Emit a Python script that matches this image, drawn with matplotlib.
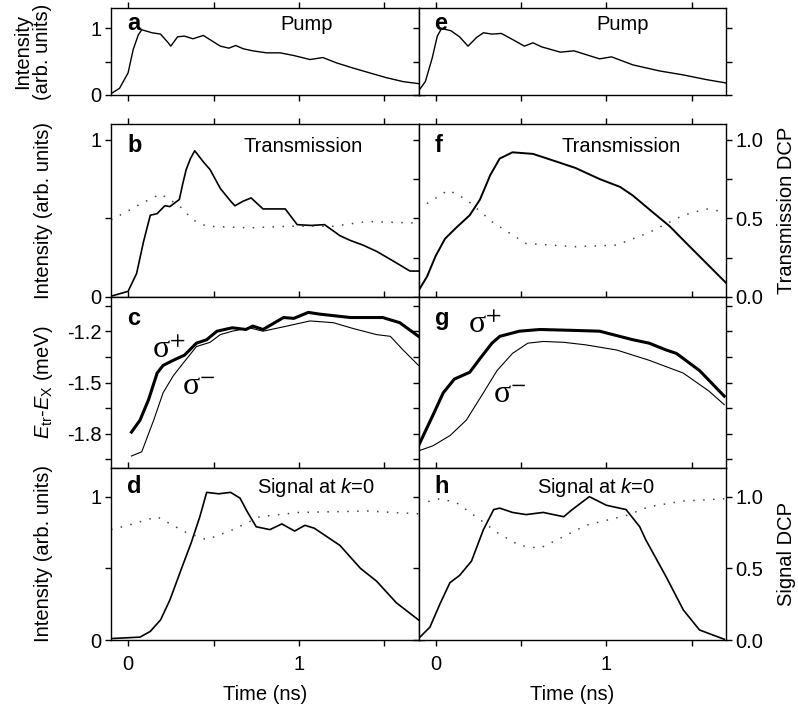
import matplotlib
matplotlib.use('Agg')
import matplotlib.pyplot as plt

plt.rcParams['font.family'] = ['Liberation Sans', 'DejaVu Sans']
plt.rcParams['font.size'] = 14.5
plt.rcParams['mathtext.fontset'] = 'custom'
plt.rcParams['mathtext.rm'] = 'Liberation Sans'
plt.rcParams['mathtext.it'] = 'Liberation Sans:italic'

# ---- data (time in ns) ----
# a: pump, left
t_pump_l = [-0.10, -0.05, 0.0, 0.03, 0.06, 0.08, 0.14, 0.19, 0.235, 0.25, 0.29, 0.33, 0.38, 0.44,
            0.49, 0.54, 0.59, 0.63, 0.675, 0.73, 0.81, 0.89, 0.97, 1.065, 1.14, 1.22, 1.32,
            1.415, 1.51, 1.61, 1.70]
pump_l = [0.02, 0.10, 0.33, 0.68, 0.90, 0.975, 0.93, 0.91, 0.78, 0.73, 0.87, 0.88, 0.84, 0.89,
          0.81, 0.73, 0.70, 0.74, 0.69, 0.66, 0.63, 0.63, 0.59, 0.53, 0.56, 0.48, 0.40,
          0.33, 0.26, 0.20, 0.17]
# e: pump, right
t_pump_r = [-0.10, -0.06, -0.02, 0.01, 0.035, 0.09, 0.14, 0.19, 0.24, 0.28, 0.33, 0.385, 0.45,
            0.52, 0.57, 0.62, 0.73, 0.81, 0.96, 1.03, 1.155, 1.31, 1.45, 1.585, 1.70]
pump_r = [0.06, 0.20, 0.55, 0.88, 0.995, 0.96, 0.87, 0.73, 0.86, 0.93, 0.91, 0.92, 0.83,
          0.73, 0.78, 0.72, 0.64, 0.66, 0.54, 0.57, 0.45, 0.36, 0.30, 0.23, 0.18]

# b: transmission (left) and its DCP (dotted)
t_tr_l = [-0.10, 0.0, 0.05, 0.09, 0.13, 0.17, 0.215, 0.245, 0.30, 0.32, 0.34, 0.365, 0.39, 0.44,
          0.48, 0.54, 0.60, 0.625, 0.675, 0.72, 0.79, 0.92, 0.99, 1.07, 1.15, 1.24, 1.30,
          1.375, 1.455, 1.55, 1.65, 1.70]
tr_l = [0.005, 0.036, 0.15, 0.35, 0.52, 0.53, 0.58, 0.575, 0.62, 0.72, 0.81, 0.88, 0.93, 0.86,
        0.81, 0.69, 0.61, 0.58, 0.61, 0.63, 0.56, 0.56, 0.46, 0.455, 0.46, 0.39, 0.36,
        0.33, 0.29, 0.23, 0.165, 0.165]
t_trdcp_l = [-0.10, -0.03, 0.07, 0.19, 0.30, 0.38, 0.46, 0.71, 0.95, 1.2, 1.4, 1.70]
trdcp_l = [0.49, 0.53, 0.59, 0.655, 0.58, 0.49, 0.45, 0.44, 0.45, 0.45, 0.48, 0.47]

# f: transmission (right) and its DCP
t_tr_r = [-0.10, -0.05, 0.0, 0.055, 0.12, 0.20, 0.26, 0.32, 0.375, 0.45, 0.57, 0.71, 0.82,
          0.96, 1.08, 1.155, 1.27, 1.37, 1.47, 1.585, 1.70]
tr_r = [0.04, 0.13, 0.26, 0.37, 0.44, 0.52, 0.62, 0.775, 0.88, 0.92, 0.91, 0.86, 0.82,
        0.75, 0.70, 0.645, 0.54, 0.45, 0.34, 0.215, 0.09]
t_trdcp_r = [-0.10, 0.075, 0.18, 0.34, 0.53, 0.82, 1.06, 1.25, 1.45, 1.585, 1.70]
trdcp_r = [0.56, 0.68, 0.62, 0.47, 0.34, 0.32, 0.33, 0.41, 0.52, 0.56, 0.54]

# c: energy shift (meV), sigma+ (thick) and sigma- (thin), left
t_cp = [0.02, 0.07, 0.12, 0.17, 0.205, 0.265, 0.33, 0.40, 0.46, 0.52, 0.61, 0.69, 0.73, 0.79,
        0.91, 0.97, 1.055, 1.12, 1.30, 1.49, 1.59, 1.70]
e_cp = [-1.79, -1.72, -1.60, -1.445, -1.40, -1.37, -1.34, -1.27, -1.25, -1.20, -1.18, -1.19,
        -1.17, -1.19, -1.12, -1.125, -1.09, -1.10, -1.12, -1.12, -1.15, -1.23]
t_cm = [0.02, 0.08, 0.15, 0.205, 0.265, 0.32, 0.40, 0.48, 0.54, 0.61, 0.71, 0.79, 0.93, 1.065,
        1.2, 1.32, 1.455, 1.535, 1.61, 1.70]
e_cm = [-1.93, -1.905, -1.72, -1.56, -1.46, -1.39, -1.29, -1.265, -1.22, -1.20, -1.18, -1.20,
        -1.17, -1.14, -1.15, -1.185, -1.22, -1.23, -1.31, -1.40]

# g: energy shift, right
t_gp = [-0.10, -0.015, 0.045, 0.11, 0.20, 0.26, 0.33, 0.376, 0.49, 0.61, 0.80, 0.96, 1.155,
        1.25, 1.35, 1.41, 1.545, 1.69]
e_gp = [-1.87, -1.69, -1.56, -1.48, -1.44, -1.36, -1.27, -1.23, -1.20, -1.19, -1.195, -1.20,
        -1.25, -1.27, -1.31, -1.33, -1.43, -1.58]
t_gm = [-0.10, -0.015, 0.085, 0.18, 0.28, 0.36, 0.45, 0.54, 0.63, 0.75, 0.88, 1.06, 1.25,
        1.45, 1.6, 1.69]
e_gm = [-1.90, -1.87, -1.81, -1.72, -1.56, -1.43, -1.33, -1.27, -1.26, -1.265, -1.28, -1.31,
        -1.37, -1.445, -1.55, -1.63]

# d: signal at k=0 (left) and its DCP
t_sig_l = [-0.10, 0.07, 0.13, 0.19, 0.245, 0.31, 0.37, 0.42, 0.46, 0.53, 0.60, 0.655, 0.70,
           0.75, 0.83, 0.90, 0.975, 1.035, 1.09, 1.24, 1.36, 1.455, 1.57, 1.70]
sig_l = [0.01, 0.02, 0.06, 0.14, 0.28, 0.49, 0.68, 0.86, 1.03, 1.02, 1.03, 0.99, 0.89,
         0.79, 0.77, 0.81, 0.76, 0.80, 0.78, 0.66, 0.50, 0.41, 0.26, 0.14]
t_sigdcp_l = [-0.10, 0.0, 0.17, 0.34, 0.46, 0.615, 0.77, 1.0, 1.4, 1.70]
sigdcp_l = [0.77, 0.80, 0.86, 0.75, 0.70, 0.77, 0.86, 0.89, 0.90, 0.88]

# h: signal at k=0 (right) and its DCP
t_sig_r = [-0.10, -0.033, 0.025, 0.084, 0.14, 0.21, 0.28, 0.34, 0.376, 0.45, 0.53, 0.63, 0.75,
           0.80, 0.90, 1.0, 1.115, 1.195, 1.23, 1.35, 1.45, 1.545, 1.69]
sig_r = [0.01, 0.09, 0.25, 0.40, 0.45, 0.55, 0.77, 0.91, 0.92, 0.89, 0.875, 0.89, 0.86,
         0.91, 1.0, 0.94, 0.91, 0.79, 0.70, 0.44, 0.21, 0.07, 0.005]
t_sigdcp_r = [-0.10, 0.025, 0.12, 0.26, 0.36, 0.49, 0.61, 0.73, 0.88, 1.12, 1.25, 1.45, 1.69]
sigdcp_r = [0.95, 0.985, 0.96, 0.84, 0.75, 0.66, 0.64, 0.71, 0.80, 0.87, 0.93, 0.97, 0.985]

# ---- layout (pixel boxes) ----
W, H = 798, 708
fig = plt.figure(figsize=(W / 100, H / 100), dpi=100)
cols = [(111, 418.5), (418.5, 726)]
rows = [(8, 95), (124, 297), (297, 468), (468, 640)]
dot = (0, (1, 5.5))
dot_color = '#444444'


def make_ax(c, r):
    x0, x1 = cols[c]
    y0, y1 = rows[r]
    ax = fig.add_axes([x0 / W, 1 - y1 / H, (x1 - x0) / W, (y1 - y0) / H])
    ax.set_xlim(-0.1, 1.7)
    ax.set_xticks([0, 1])
    ax.set_xticks([0.5, 1.5], minor=True)
    ax.set_xticklabels(['0', '1'])
    ax.tick_params(which='both', direction='out', top=True, right=True, length=4, width=1)
    ax.tick_params(axis='x', pad=7, labelbottom=(r == 3))
    ax.tick_params(axis='y', pad=3, labelleft=(c == 0))
    for s in ax.spines.values():
        s.set_linewidth(1)
    if r == 3:
        ax.set_xlabel('Time (ns)', labelpad=8)
    return ax


def tag(ax, letter, title, tx, dy):
    ax.annotate(letter, xy=(0, 1), xycoords='axes fraction', xytext=(16, -dy),
                textcoords='offset pixels', fontsize=17, fontweight='bold', va='baseline')
    ax.annotate(title, xy=(tx, 1), xycoords='axes fraction', xytext=(0, -dy),
                textcoords='offset pixels', ha='center', va='baseline')


def sigma(ax, sign, x, y):
    # upright serif sigma with a superscript sign
    ax.text(x, y, 'σ$^{%s}$' % sign, transform=ax.transAxes, fontsize=23,
            family=['Liberation Serif', 'DejaVu Serif'], math_fontfamily='stix',
            va='baseline', ha='left')


# row a / e
for c, (tt, yy, tx) in enumerate([(t_pump_l, pump_l, 0.637), (t_pump_r, pump_r, 0.665)]):
    ax = make_ax(c, 0)
    ax.plot(tt, yy, color='k', lw=1.0)
    ax.set_ylim(0, 1.3)
    ax.set_yticks([0, 1])
    ax.set_yticks([0.5], minor=True)
    ax.set_yticklabels(['0', '1'])
    tag(ax, 'ae'[c], 'Pump', tx, 22)
    if c == 0:
        ax.set_ylabel('Intensity\n(arb. units)', va='center', linespacing=1.1)
        ax.yaxis.set_label_coords(-0.255, 0.5)

# row b / f
ax = make_ax(0, 1)
ax.plot(t_tr_l, tr_l, color='k', lw=1.2)
ax.plot(t_trdcp_l, trdcp_l, color=dot_color, lw=1.1, ls=dot)
ax.set_ylim(0, 1.1)
ax.set_yticks([0, 1])
ax.set_yticks([0.5], minor=True)
ax.set_yticklabels(['0', '1'])
ax.set_ylabel('Intensity (arb. units)', va='center')
ax.yaxis.set_label_coords(-0.221, 0.5)
tag(ax, 'b', 'Transmission', 0.626, 28)

ax = make_ax(1, 1)
ax.plot(t_tr_r, tr_r, color='k', lw=1.4)
ax.plot(t_trdcp_r, trdcp_r, color=dot_color, lw=1.1, ls=dot)
ax.set_ylim(0, 1.1)
ax.set_yticks([0, 0.5, 1.0])
ax.set_yticks([0.25, 0.75], minor=True)
ax.set_yticklabels(['0.0', '0.5', '1.0'])
ax.tick_params(axis='y', labelright=True, labelleft=False)
ax.yaxis.set_label_position('right')
ax.set_ylabel('Transmission DCP', va='center')
ax.yaxis.set_label_coords(1.198, 0.5)
tag(ax, 'f', 'Transmission', 0.658, 28)

# row c / g
for c, (tp, ep, tm, em, pos) in enumerate([
        (t_cp, e_cp, t_cm, e_cm, ((0.133, 0.643), (0.231, 0.427))),
        (t_gp, e_gp, t_gm, e_gm, ((0.161, 0.789), (0.242, 0.380)))]):
    ax = make_ax(c, 2)
    ax.plot(tp, ep, color='k', lw=2.2)
    ax.plot(tm, em, color='k', lw=0.8)
    ax.set_ylim(-2.0, -1.0)
    ax.set_yticks([-1.8, -1.5, -1.2])
    ax.set_yticks([-1.95, -1.65, -1.35, -1.05], minor=True)
    ax.set_yticklabels(['-1.8', '-1.5', '-1.2'])
    ax.annotate('cg'[c], xy=(0, 1), xycoords='axes fraction', xytext=(16, -28),
                textcoords='offset pixels', fontsize=17, fontweight='bold', va='baseline')
    sigma(ax, '+', *pos[0])
    sigma(ax, '-', *pos[1])
    if c == 0:
        ax.set_ylabel(r'$E_{\rm tr}$-$E_{\rm X}$ (meV)', va='center')
        ax.yaxis.set_label_coords(-0.221, 0.5)

# row d / h
ax = make_ax(0, 3)
ax.plot(t_sig_l, sig_l, color='k', lw=1.2)
ax.plot(t_sigdcp_l, sigdcp_l, color=dot_color, lw=1.1, ls=dot)
ax.set_ylim(0, 1.2)
ax.set_yticks([0, 1])
ax.set_yticks([0.5], minor=True)
ax.set_yticklabels(['0', '1'])
ax.set_ylabel('Intensity (arb. units)', va='center')
ax.yaxis.set_label_coords(-0.221, 0.5)
tag(ax, 'd', 'Signal at $k$=0', 0.666, 25)

ax = make_ax(1, 3)
ax.plot(t_sig_r, sig_r, color='k', lw=1.2)
ax.plot(t_sigdcp_r, sigdcp_r, color=dot_color, lw=1.1, ls=dot)
ax.set_ylim(0, 1.2)
ax.set_yticks([0, 0.5, 1.0])
ax.set_yticklabels(['0.0', '0.5', '1.0'])
ax.tick_params(axis='y', labelright=True, labelleft=False)
ax.yaxis.set_label_position('right')
ax.set_ylabel('Signal DCP', va='center')
ax.yaxis.set_label_coords(1.198, 0.5)
tag(ax, 'h', 'Signal at $k$=0', 0.577, 25)

fig.savefig('out.png', dpi=100)
